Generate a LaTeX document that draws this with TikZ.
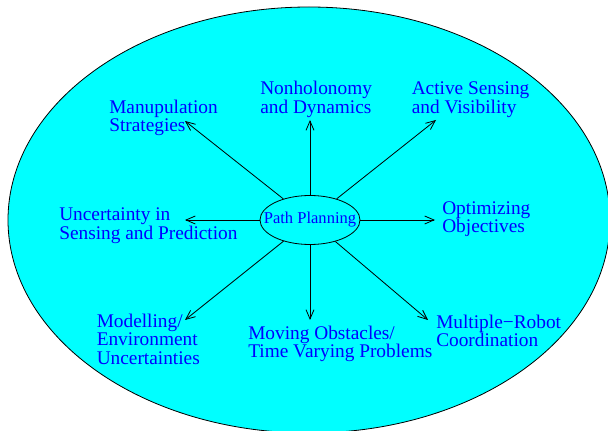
\documentclass[tikz,border=0pt]{standalone}
\usepackage{fontspec}
\setmainfont{Liberation Serif}
\usepackage{tikz}
\usetikzlibrary{shapes.geometric, arrows.meta, positioning}
\definecolor{figcyan}{RGB}{0,255,255}
\definecolor{figblue}{RGB}{0,0,255}

\begin{document}
\begin{tikzpicture}[
    x=0.75pt, y=-0.75pt,
    topic/.style={anchor=base west, inner sep=0pt, align=left, text=figblue, font=\fontsize{14.5}{13.8}\selectfont},
    hub/.style={ellipse, draw, line width=0.6pt, inner sep=0pt, minimum width=75pt, minimum height=36.75pt, text=figblue, font=\fontsize{12.4}{13}\selectfont},
    arrow/.style={line width=0.6pt, -{Straight Barb[length=7pt,width=6pt]}}
]
    \clip (0,0) rectangle (608,431);
    \draw [fill=figcyan, line width=0.6pt] (309,220) ellipse [x radius=301, y radius=213];

    \node (pp) [hub] at (310,220) {\makebox[0pt]{Path Planning}};

    \node (manip)  [topic] at (109,131.7)   {Manupulation\\Strategies};
    \node (nonhol) [topic] at (260,113.3)   {Nonholonomy\\and Dynamics};
    \node (active) [topic] at (411.5,113.3) {Active Sensing\\and Visibility};
    \node (uncert) [topic] at (59,239.3)    {Uncertainty in\\Sensing and Prediction};
    \node (optim)  [topic] at (442,232.7)   {Optimizing\\Objectives};
    \node (model)  [topic] at (96.5,364.3)  {Modelling/\\Environment\\Uncertainties};
    \node (moving) [topic] at (248,357.7)   {Moving Obstacles/\\Time Varying Problems};
    \node (multi)  [topic] at (436,347)     {Multiple−Robot\\Coordination};

    \coordinate (tmanip)  at (185,121);
    \coordinate (tnonhol) at (310,120);
    \coordinate (tactive) at (436,120);
    \coordinate (tuncert) at (185,220);
    \coordinate (toptim)  at (435,220);
    \coordinate (tmodel)  at (185,320);
    \coordinate (tmoving) at (310,320);
    \coordinate (tmulti)  at (428,320);

    \draw [arrow] (pp) -- (tmanip);
    \draw [arrow] (pp) -- (tnonhol);
    \draw [arrow] (pp) -- (tactive);
    \draw [arrow] (pp) -- (tuncert);
    \draw [arrow] (pp) -- (toptim);
    \draw [arrow] (pp) -- (tmodel);
    \draw [arrow] (pp) -- (tmoving);
    \draw [arrow] (pp) -- (tmulti);
\end{tikzpicture}
\end{document}
